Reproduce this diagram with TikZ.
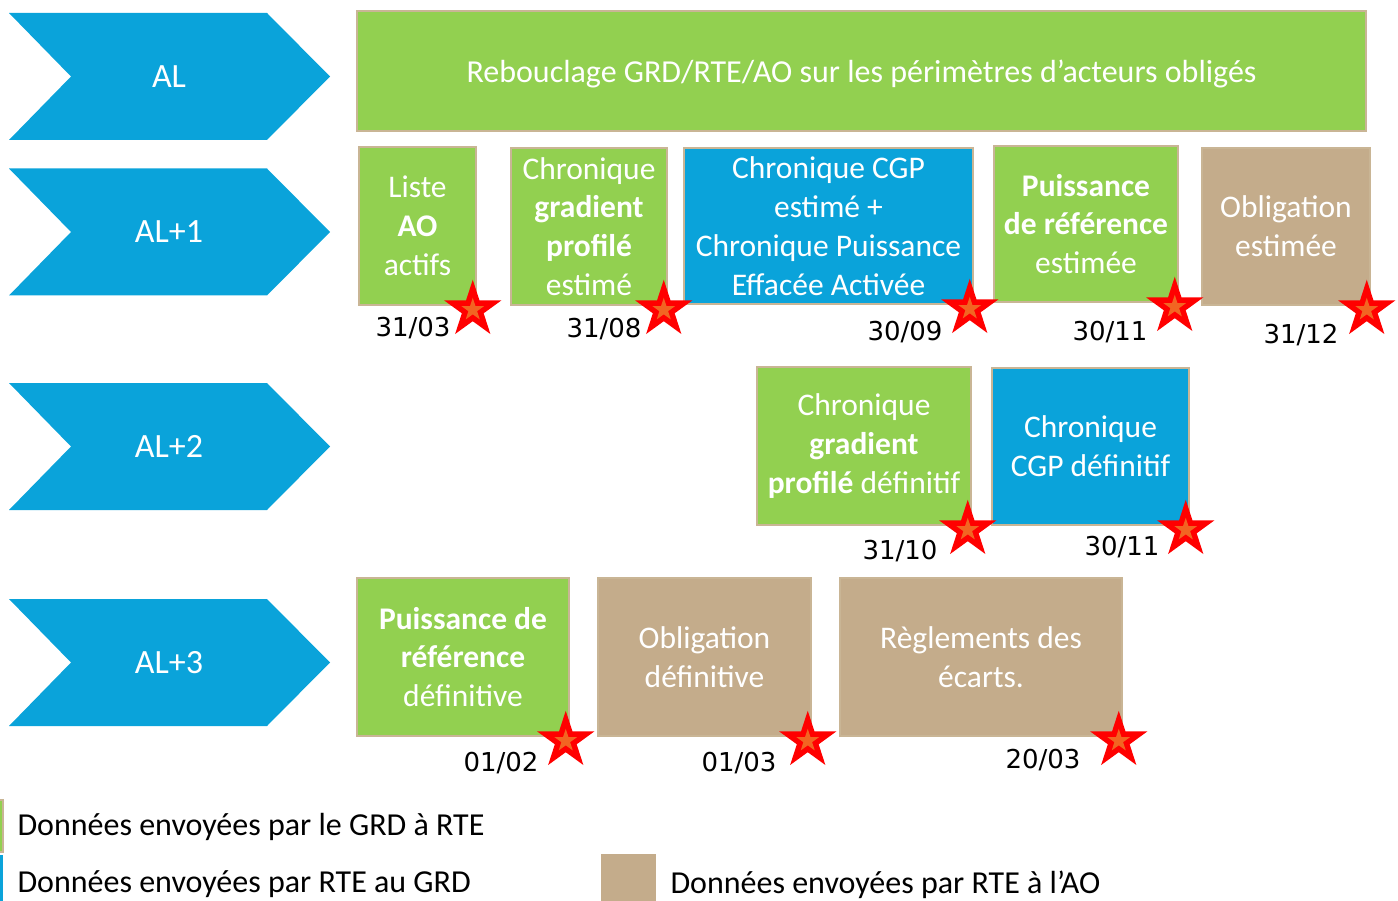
\documentclass[tikz,border=0pt]{standalone}
\usepackage{fontspec}
\setmainfont{Carlito}
\newfontfamily\datefont{DejaVu Sans}
\usepackage{xcolor}
\usetikzlibrary{shapes.geometric, calc}

\definecolor{grdgreen}{HTML}{92D050}
\definecolor{rteblue}{HTML}{0AA3DA}
\definecolor{aotan}{HTML}{C4AC8B}
\definecolor{edgetan}{HTML}{C9B595}
\definecolor{starorange}{HTML}{F26522}

\begin{document}
\begin{tikzpicture}[x=1pt, y=-1pt]

        % 1. Picture limits (pixels of the reference, y downwards)
        \useasboundingbox (0,0) rectangle (1398,901);

        \tikzset{
            box/.style={draw=edgetan, line width=1.5pt, text=white, align=center, inner sep=0pt,
                        font=\fontsize{31.5}{38.8}\selectfont},
            chevron/.style={fill=rteblue, draw=none},
            yearlabel/.style={text=white, font=\fontsize{34}{40}\selectfont},
            jalon/.style={star, star points=5, star point ratio=2.618, fill=red, inner sep=0pt, minimum size=60pt},
            jalon core/.style={star, star points=5, star point ratio=2.618, fill=starorange, inner sep=0pt, minimum size=24pt},
            datelabel/.style={font=\datefont\fontsize{26}{30}\selectfont},
            legendtext/.style={anchor=base west, font=\fontsize{32}{38}\selectfont}
        }

        % 2. The year chevrons on the left
        \foreach \y/\lab [count=\i] in {76.5/AL, 232/AL+1, 446.5/AL+2, 662.5/AL+3} {
            \fill[chevron] (9,\y-63.5) -- (267,\y-63.5) -- (330,\y) -- (267,\y+63.5) -- (9,\y+63.5) -- (71,\y) -- cycle;
            \node[yearlabel] (year\i) at (169,\y) {\lab};
        }

        % 3. Data boxes
        % Year AL
        \node[box, fill=grdgreen, minimum width=1009pt, minimum height=120pt, text height=30pt, text depth=7pt,
              font=\fontsize{32}{38}\selectfont] (rebouclage) at (861.5,71)
            {Rebouclage GRD/RTE/AO sur les périmètres d’acteurs obligés};

        % Year AL+1
        \node[box, fill=grdgreen, minimum width=117pt, minimum height=158pt] (liste) at (417.5,226)
            {Liste\\\textbf{AO}\\actifs};
        \node[box, fill=grdgreen, minimum width=156pt, minimum height=157pt] (gradest) at (589,226.5)
            {Chronique\\\textbf{gradient}\\\textbf{profilé}\\estimé};
        \node[box, fill=rteblue, minimum width=289pt, minimum height=156pt] (cgpest) at (828.5,226)
            {Chronique CGP\\estimé +\\Chronique Puissance\\Effacée Activée};
        \node[box, fill=grdgreen, minimum width=184pt, minimum height=156pt] (prefest) at (1086,224)
            {\textbf{Puissance}\\\textbf{de référence}\\estimée};
        \node[box, fill=aotan, minimum width=168pt, minimum height=157pt] (oblest) at (1286,226.5)
            {Obligation\\estimée};

        % Year AL+2
        \node[box, fill=grdgreen, minimum width=214pt, minimum height=158pt] (graddef) at (864,446)
            {Chronique\\\textbf{gradient}\\\textbf{profilé} définitif};
        \node[box, fill=rteblue, minimum width=197pt, minimum height=157pt] (cgpdef) at (1090.5,446.5)
            {Chronique\\CGP définitif};

        % Year AL+3
        \node[box, fill=grdgreen, minimum width=212pt, minimum height=158pt] (prefdef) at (463,657)
            {\textbf{Puissance de}\\\textbf{référence}\\définitive};
        \node[box, fill=aotan, minimum width=213pt, minimum height=158pt] (obldef) at (704.5,657)
            {Obligation\\définitive};
        \node[box, fill=aotan, minimum width=282pt, minimum height=158pt] (reglement) at (981,657)
            {Règlements des\\écarts.};

        % 4. Deadline stars on the bottom right corners
        \foreach \b in {liste, gradest, cgpest, prefest, oblest, graddef, cgpdef, prefdef, obldef, reglement} {
            \coordinate (s-\b) at ($(\b.south east)+(-4,4)$);
            \node[jalon] (star-\b) at (s-\b) {};
            \node[jalon core] (core-\b) at (s-\b) {};
        }

        % 5. Deadlines
        \node[datelabel] (d-liste) at (413,328) {31/03};
        \node[datelabel] (d-gradest) at (604,329) {31/08};
        \node[datelabel] (d-cgpest) at (905,332) {30/09};
        \node[datelabel] (d-prefest) at (1110,332) {30/11};
        \node[datelabel] (d-oblest) at (1301,335) {31/12};
        \node[datelabel] (d-graddef) at (900,551) {31/10};
        \node[datelabel] (d-cgpdef) at (1122,547) {30/11};
        \node[datelabel] (d-prefdef) at (501,763) {01/02};
        \node[datelabel] (d-obldef) at (739,763) {01/03};
        \node[datelabel] (d-reglement) at (1043,760) {20/03};

        % 6. Legend
        \filldraw[fill=grdgreen, draw=edgetan, line width=1.5pt] (-20,800) rectangle (3,852);
        \fill[rteblue] (-20,855) rectangle (3,910);
        \fill[aotan] (601,854) rectangle (656,910);
        \node[legendtext] (leg-grd) at (14,835) {Données envoyées par le GRD à RTE};
        \node[legendtext] (leg-rte) at (14,892) {Données envoyées par RTE au GRD};
        \node[legendtext] (leg-ao) at (667,893) {Données envoyées par RTE à l’AO};

\end{tikzpicture}
\end{document}
